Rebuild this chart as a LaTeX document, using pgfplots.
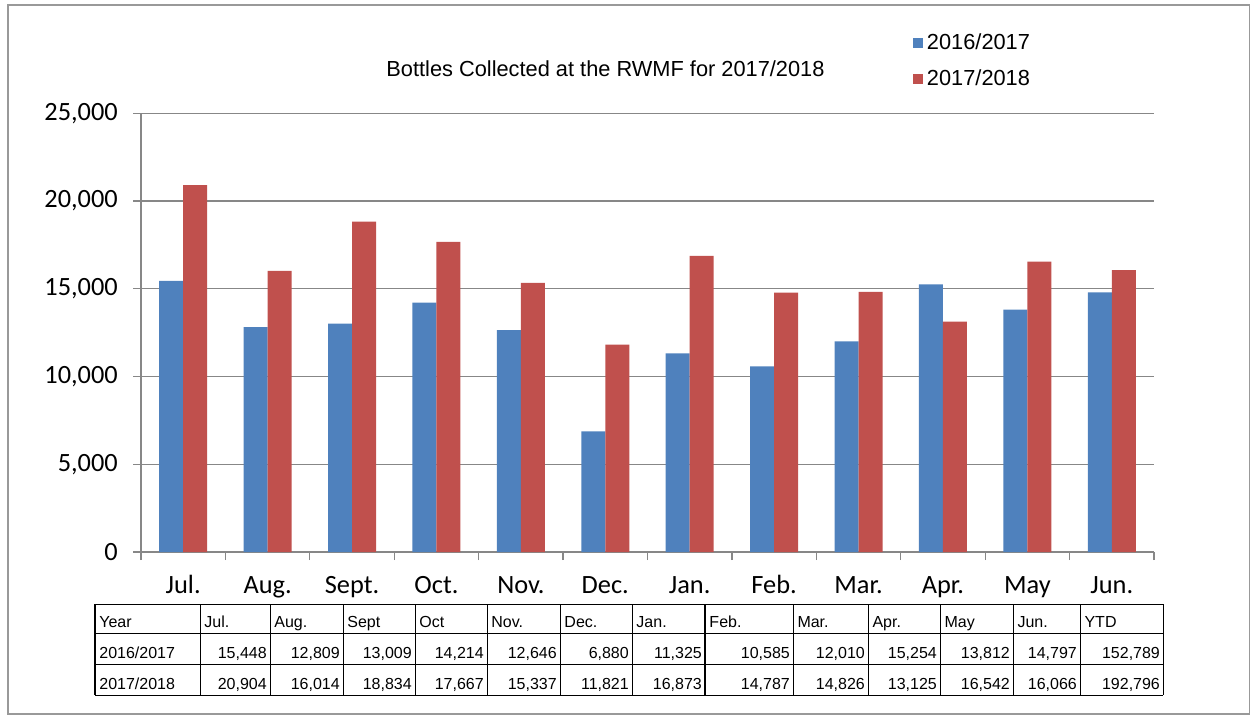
\documentclass[border=0pt]{standalone}
\usepackage{fontspec}
\setmainfont{Liberation Sans}
\newfontfamily\carlito{Carlito}
\usepackage{pgfplots}
\pgfplotsset{compat=1.18}
\definecolor{bblue}{HTML}{4F81BD}
\definecolor{bred}{HTML}{C0504D}
\definecolor{gridgray}{HTML}{878787}
\newcommand\tcol[5]{%
  \node[anchor=base west, inner sep=0] at (#1+4, 627) {#3};
  \node[anchor=base east, inner sep=0] at (#2-3, 658) {#4};
  \node[anchor=base east, inner sep=0] at (#2-3, 689) {#5};
}
\begin{document}
\begin{tikzpicture}
\useasboundingbox (0,0) rectangle (25.04cm,-14.34cm);
\begin{scope}[x=0.02cm,y=-0.02cm]
\draw[gray!80, line width=0.8pt] (8,5) rectangle (1249,714);
\end{scope}
\begin{axis}[
  at={(2.82cm,-11.04cm)}, anchor=south west,
  scale only axis, width=20.26cm, height=8.774cm,
  ybar=0pt, bar width=0.48cm,
  xmin=-0.5, xmax=11.5, ymin=0, ymax=25000,
  ytick={0,5000,...,25000},
  xtick={-0.5,0.5,...,11.5},
  x tick label as interval,
  xticklabels={Jul.,Aug.,Sept.,Oct.,Nov.,Dec.,Jan.,Feb.,Mar.,Apr.,May,Jun.},
  axis x line*=bottom, axis y line*=left,
  axis line style={gridgray, line width=0.7pt},
  ymajorgrids, grid style={gridgray, line width=0.7pt},
  tick style={gridgray, line width=0.7pt}, major tick length=0.16cm, tick align=outside,
  ticklabel style={font=\carlito\fontsize{15}{18}\selectfont},
  xticklabel style={anchor=north, text height=11pt, text depth=4pt, yshift=-0.15cm},
  yticklabel style={xshift=-0.18cm},
  scaled y ticks=false,
  title={Bottles Collected at the RWMF for 2017/2018},
  title style={at={(0.4585,1.078)}, anchor=center, font=\fontsize{12.4}{15}\selectfont},
  legend style={at={(0.757,1.198)}, anchor=north west, draw=none, fill=none,
    font=\fontsize{12.4}{15}\selectfont, row sep=6pt,
    /tikz/every even column/.append style={column sep=0.1cm}},
  legend cell align=left,
  legend image code/.code={\fill[#1] (0cm,-0.1cm) rectangle (0.2cm,0.1cm);},
  /pgf/number format/1000 sep={,},
  /pgf/number format/assume math mode=true,
]
\addplot[fill=bblue, draw=none] coordinates {
(0,15448) (1,12809) (2,13009) (3,14214) (4,12646) (5,6880)
(6,11325) (7,10585) (8,12010) (9,15254) (10,13812) (11,14797)};
\addplot[fill=bred, draw=none] coordinates {
(0,20904) (1,16014) (2,18834) (3,17667) (4,15337) (5,11821)
(6,16873) (7,14787) (8,14826) (9,13125) (10,16542) (11,16066)};
\legend{2016/2017,2017/2018}
\end{axis}
\begin{scope}[x=0.02cm,y=-0.02cm, font=\fontsize{9.1}{11}\selectfont]
\foreach \yy in {604,633,664,695} \draw[line width=0.6pt] (95,\yy) -- (1163,\yy);
\foreach \xx in {95,200,270,343,415,487,560,632,793,868,940,1013,1080,1163} \draw[line width=0.6pt] (\xx,604) -- (\xx,695);
\draw[line width=1.2pt] (705,604) -- (705,695);
\node[anchor=base west, inner sep=0] at (99,627) {Year};
\node[anchor=base west, inner sep=0] at (99,658) {2016/2017};
\node[anchor=base west, inner sep=0] at (99,689) {2017/2018};
\tcol{200}{270}{Jul.}{15,448}{20,904}
\tcol{270}{343}{Aug.}{12,809}{16,014}
\tcol{343}{415}{Sept}{13,009}{18,834}
\tcol{415}{487}{Oct}{14,214}{17,667}
\tcol{487}{560}{Nov.}{12,646}{15,337}
\tcol{560}{632}{Dec.}{6,880}{11,821}
\tcol{632}{705}{Jan.}{11,325}{16,873}
\tcol{705}{793}{Feb.}{10,585}{14,787}
\tcol{793}{868}{Mar.}{12,010}{14,826}
\tcol{868}{940}{Apr.}{15,254}{13,125}
\tcol{940}{1013}{May}{13,812}{16,542}
\tcol{1013}{1080}{Jun.}{14,797}{16,066}
\tcol{1080}{1163}{YTD}{152,789}{192,796}
\end{scope}
\end{tikzpicture}
\end{document}
